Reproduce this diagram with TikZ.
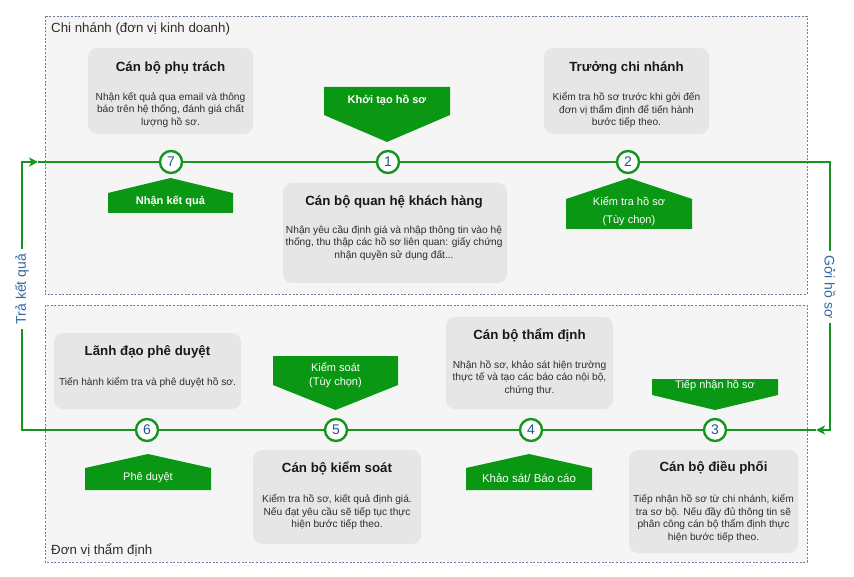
\documentclass[tikz,border=0pt]{standalone}
\usepackage{fontspec}
\setmainfont{Liberation Sans}
\usetikzlibrary{arrows.meta}
\definecolor{gfill}{RGB}{10,152,20}
\definecolor{gline}{RGB}{20,150,30}
\definecolor{boxgray}{RGB}{230,230,230}
\definecolor{contfill}{RGB}{245,245,246}
\definecolor{contline}{RGB}{110,128,152}
\definecolor{digit}{RGB}{30,88,150}
\definecolor{sideblue}{RGB}{50,105,165}
\definecolor{txt}{RGB}{45,45,45}
\newcommand{\pdown}[6]{% name, left, right, top, side bottom, tip y
  \draw[greenshape] (#2,#4) -- (#3,#4) -- (#3,#5) -- ({(#2+#3)/2},#6) -- (#2,#5) -- cycle;}
\newcommand{\pup}[6]{% name, left, right, tip y, side top, bottom
  \draw[greenshape] ({(#2+#3)/2},#4) -- (#3,#5) -- (#3,#6) -- (#2,#6) -- (#2,#5) -- cycle;}
\tikzset{
  container/.style={draw=contline, fill=contfill, line width=0.9pt, dash pattern=on 2pt off 1.6pt},
  contlabel/.style={anchor=west, inner sep=0pt, font=\fontsize{13.3}{15}\selectfont, text=txt},
  graybox/.style={fill=boxgray, rounded corners=9pt, draw=none},
  titletext/.style={font=\fontsize{13.3}{15}\selectfont\bfseries, text=black!90, inner sep=0pt},
  bodytext/.style={font=\fontsize{10.2}{12.6}\selectfont, text=txt, align=center, inner sep=0pt},
  greenshape/.style={fill=gfill, draw=none},
  gtext/.style={font=\fontsize{11}{14}\selectfont, text=white, align=center, inner sep=0pt},
  gtextb/.style={font=\fontsize{11}{14}\selectfont\bfseries, text=white, align=center, inner sep=0pt},
  circ/.style={circle, draw=gline, line width=2.4pt, fill=white, minimum size=22pt, inner sep=0pt, text=digit, font=\fontsize{14}{16}\selectfont},
  conn/.style={draw=gline, line width=1.8pt},
  tipped/.style={conn, -{Stealth[length=9pt,width=9pt,inset=2.5pt]}},
  sidelabel/.style={fill=white, text=sideblue, font=\fontsize{14}{16}\selectfont, inner xsep=5pt, inner ysep=1pt}
}
\begin{document}
\begin{tikzpicture}[x=1pt,y=-1pt]
\useasboundingbox (0,0) rectangle (854,577);
% containers
\draw[container] (45,16) rectangle (807,294);
\draw[container] (45,305) rectangle (807,562);
\node[contlabel] (lblTop) at (51,29) {Chi nhánh (đơn vị kinh doanh)};
\node[contlabel] (lblBot) at (51,550) {Đơn vị thẩm định};

% coordinates of the loop
\coordinate (TL) at (22,162);
\coordinate (BL) at (22,430);
\coordinate (TR) at (830,162);
\coordinate (BR) at (830,430);
\coordinate (inL) at (38,162);
\coordinate (inR) at (816,430);

% circles
\node[circ] (c7) at (171,162) {7};
\node[circ] (c1) at (388,162) {1};
\node[circ] (c2) at (628,162) {2};
\node[circ] (c6) at (147,430) {6};
\node[circ] (c5) at (336,430) {5};
\node[circ] (c4) at (531,430) {4};
\node[circ] (c3) at (715,430) {3};

% connectors
\draw[conn] (inL) -- (c7);
\draw[conn] (c7) -- (c1);
\draw[conn] (c1) -- (c2);
\draw[tipped] (c2) -- (TR) -- (BR) -- (inR);
\draw[conn] (inR) -- (c3);
\draw[conn] (c3) -- (c4);
\draw[conn] (c4) -- (c5);
\draw[conn] (c5) -- (c6);
\draw[tipped] (c6) -- (BL) -- (TL) -- (inL);

% side labels
\node[sidelabel, rotate=90] (sideL) at (22,289) {Trả kết quả};
\node[sidelabel, rotate=-90] (sideR) at (830,287) {Gởi hồ sơ};

% green pentagons
\pdown{p1}{324}{450}{87}{115}{142}
\node[gtextb] (g1) at (387,100) {Khởi tạo hồ sơ};
\pup{p7}{108}{233}{178}{193}{213}
\node[gtextb] (g7) at (170.5,201) {Nhận kết quả};
\pup{p2}{566}{692}{178}{199}{229}
\node[gtext, font=\fontsize{11}{17.5}\selectfont] (g2) at (629,211) {Kiểm tra hồ sơ\\(Tùy chọn)};
\pdown{p3}{652}{778}{379}{395}{410}
\node[gtext] (g3) at (715,385) {Tiếp nhận hồ sơ};
\pdown{p5}{273}{398}{356}{385}{410}
\node[gtext] (g5) at (335.5,375) {Kiểm soát\\(Tùy chọn)};
\pup{p6}{85}{211}{454}{468}{490}
\node[gtext] (g6) at (148,478) {Phê duyệt};
\pup{p4}{466}{592}{454}{468}{490}
\node[gtext, font=\fontsize{11.5}{14}\selectfont] (g4) at (529,478) {Khảo sát/ Báo cáo};

% gray boxes
\path[graybox] (88,48) rectangle (253,134);
\node[titletext] (t7) at (170.5,68) {Cán bộ phụ trách};
\node[bodytext] (b7) at (170.5,110) {Nhận kết quả qua email và thông\\báo trên hệ thống, đánh giá chất\\lượng hồ sơ.};

\path[graybox] (544,48) rectangle (709,134);
\node[titletext] (t2) at (626.5,68) {Trưởng chi nhánh};
\node[bodytext] (b2) at (626.5,110) {Kiểm tra hồ sơ trước khi gởi đến\\đơn vị thẩm định để tiến hành\\bước tiếp theo.};

\path[graybox] (283,183) rectangle (507,283);
\node[titletext] (t1) at (394,202) {Cán bộ quan hệ khách hàng};
\node[bodytext] (b1) at (394,243) {Nhận yêu cầu định giá và nhập thông tin vào hệ\\thống, thu thập các hồ sơ liên quan: giấy chứng\\nhận quyền sử dụng đất...};

\path[graybox] (54,333) rectangle (241,409);
\node[titletext] (t6) at (147.5,352) {Lãnh đạo phê duyệt};
\node[bodytext] (b6) at (147.5,382) {Tiến hành kiểm tra và phê duyệt hồ sơ.};

\path[graybox] (446,317) rectangle (613,409);
\node[titletext] (t4) at (529.5,335) {Cán bộ thẩm định};
\node[bodytext] (b4) at (529.5,378) {Nhận hồ sơ, khảo sát hiện trường\\thực tế và tạo các báo cáo nội bộ,\\chứng thư.};

\path[graybox] (253,450) rectangle (421,544);
\node[titletext] (t5) at (337,468) {Cán bộ kiểm soát};
\node[bodytext] (b5) at (337,512) {Kiểm tra hồ sơ, kiết quả định giá.\\Nếu đạt yêu cầu sẽ tiếp tục thực\\hiện bước tiếp theo.};

\path[graybox] (629,450) rectangle (798,553);
\node[titletext] (t3) at (713.5,468) {Cán bộ điều phối};
\node[bodytext] (b3) at (713.5,518.5) {Tiếp nhận hồ sơ từ chi nhánh, kiểm\\tra sơ bộ. Nếu đầy đủ thông tin sẽ\\phân công cán bộ thẩm định thực\\hiện bước tiếp theo.};
\end{tikzpicture}
\end{document}
